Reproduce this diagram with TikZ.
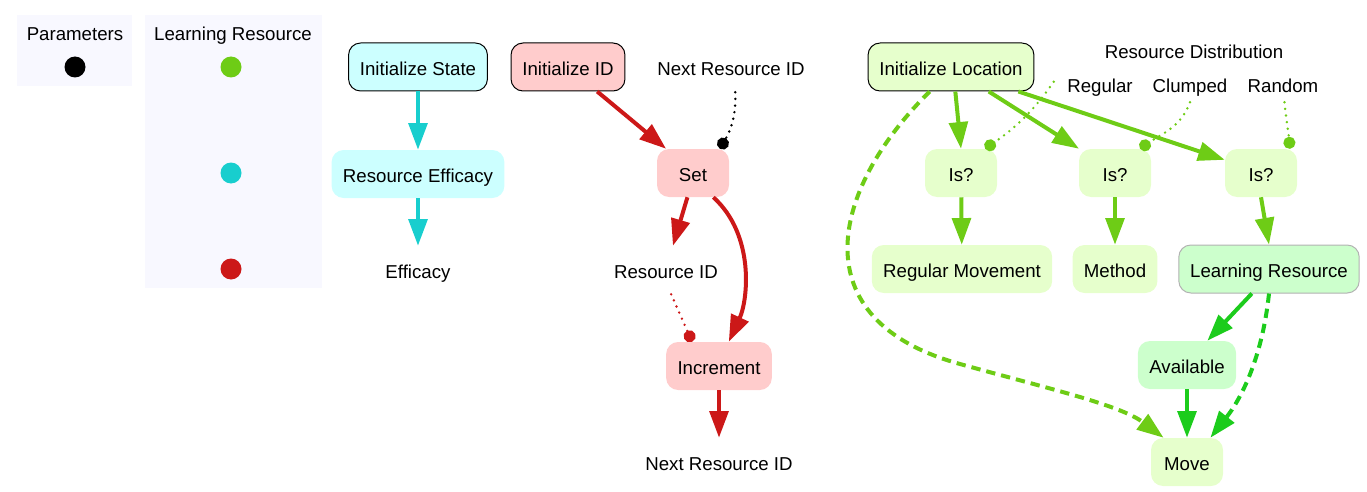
\documentclass[tikz,border=0pt]{standalone}
\usepackage{fontspec}
\setmainfont{Liberation Sans}
\usetikzlibrary{arrows.meta}
\definecolor{lrlime}{RGB}{110,204,22}
\definecolor{lrdark}{RGB}{28,204,28}
\definecolor{lrcyan}{RGB}{24,206,206}
\definecolor{lrred}{RGB}{204,24,24}
\definecolor{fillcyan}{RGB}{204,255,255}
\definecolor{fillred}{RGB}{255,204,204}
\definecolor{filllime}{RGB}{230,255,204}
\definecolor{fillgreen}{RGB}{204,255,204}
\definecolor{legendbg}{RGB}{248,248,255}
\tikzset{
  every node/.style={font=\fontsize{14}{17}\selectfont, text height=13pt, text depth=1pt},
  box/.style={rounded corners=9pt, minimum height=36pt, minimum width=54pt, inner xsep=8.5pt},
  framed/.style={box, draw=black, line width=0.75pt},
  plain/.style={minimum height=36pt, inner xsep=4pt},
  tag/.style={minimum height=25.5pt, inner xsep=10pt},
  dot/.style={circle, minimum size=15.75pt, inner sep=0pt, text height=0pt, text depth=0pt},
  link/.style={line width=3pt, -{Triangle[length=20pt,width=14pt]}},
  flow/.style={link, dash pattern=on 7pt off 4.5pt},
  hint/.style={line width=2pt, dash pattern=on 0pt off 5pt, line cap=round, -{Circle[length=9pt]}}
}
\begin{document}
\begin{tikzpicture}[x=0.75pt, y=0.75pt]
\useasboundingbox (0,0) rectangle (1367,-492);
\fill[legendbg] (17,-15) rectangle (132,-86);
\fill[legendbg] (145,-15) rectangle (322,-288);
\node (params) at (75,-33) {Parameters};
\node[dot, fill=black] (pdot) at (75,-67) {};
\node (legend) at (233,-33) {Learning Resource};
\node[dot, fill=lrlime] (gdot) at (231,-67) {};
\node[dot, fill=lrcyan] (cdot) at (231,-173) {};
\node[dot, fill=lrred] (rdot) at (231,-269) {};

\node[framed, fill=fillcyan] (initstate) at (418,-67) {Initialize State};
\node[box, fill=fillcyan] (reseff) at (418,-174) {Resource Efficacy};
\node[plain] (eff) at (418,-270) {Efficacy};
\draw[link, lrcyan] (initstate) -- (reseff);
\draw[link, lrcyan] (reseff) -- (eff);

\node[framed, fill=fillred] (initid) at (568,-67) {Initialize ID};
\node[plain] (nextid) at (731,-68) {Next Resource ID};
\node[box, fill=fillred] (set) at (693,-173) {Set};
\node[plain] (rid) at (666,-270) {Resource ID};
\node[box, fill=fillred] (inc) at (719,-366) {Increment};
\node[plain] (nextidout) at (719,-462) {Next Resource ID};
\draw[link, lrred] (initid.-40) -- (set.138);
\draw[link, lrred] (set.-103) -- (rid.74);
\draw[link, lrred] (set.-50) .. controls (755,-235) and (748,-300) .. (inc.68);
\draw[link, lrred] (inc) -- (nextidout);
\draw[hint, black] (nextid.-80) to[out=-88, in=60] (set.42);
\draw[hint, lrred] (rid.-78) -- (inc.138);

\node[framed, fill=filllime] (initloc) at (951,-67) {Initialize Location};
\node (resdist) at (1194,-51) {Resource Distribution};
\node[tag] (reg) at (1100,-85) {Regular};
\node[tag] (clu) at (1190,-85) {Clumped};
\node[tag] (ran) at (1283,-85) {Random};
\node[box, fill=filllime] (is1) at (961,-173) {Is?};
\node[box, fill=filllime] (is2) at (1115,-173) {Is?};
\node[box, fill=filllime] (is3) at (1261,-173) {Is?};
\node[box, fill=filllime] (regmove) at (962,-269) {Regular Movement};
\node[box, fill=filllime] (method) at (1115,-269) {Method};
\node[box, fill=fillgreen, draw=black!30, line width=0.75pt] (lres) at (1269,-269) {Learning Resource};
\node[box, fill=fillgreen] (avail) at (1187,-365) {Available};
\node[box, fill=filllime] (move) at (1187,-462) {Move};
\draw[link, lrlime] (initloc.-80) -- (is1.north);
\draw[link, lrlime] (initloc.-33) -- (is2.146);
\draw[link, lrlime] (initloc.-20.6) -- (is3.160);
\draw[link, lrlime] (is1) -- (regmove);
\draw[link, lrlime] (is2) -- (method);
\draw[link, lrlime] (is3.south) -- (lres.north);
\draw[hint, lrlime] (reg.176) to[out=-125, in=35] (is1.45);
\draw[hint, lrlime] (clu.south) to[out=-110, in=35] (is2.44);
\draw[hint, lrlime] (ran.-85) to[out=-85, in=95] (is3.40);
\draw[flow, lrlime] (initloc.-131) .. controls (830,-190) and (800,-320) .. (960,-364)
  .. controls (1050,-389) and (1120,-405) .. (move.134);
\draw[link, lrdark] (lres.-125) -- (avail.50);
\draw[link, lrdark] (avail) -- (move);
\draw[flow, lrdark] (lres.south) .. controls (1262,-360) and (1240,-400) .. (move.46);
\end{tikzpicture}
\end{document}
